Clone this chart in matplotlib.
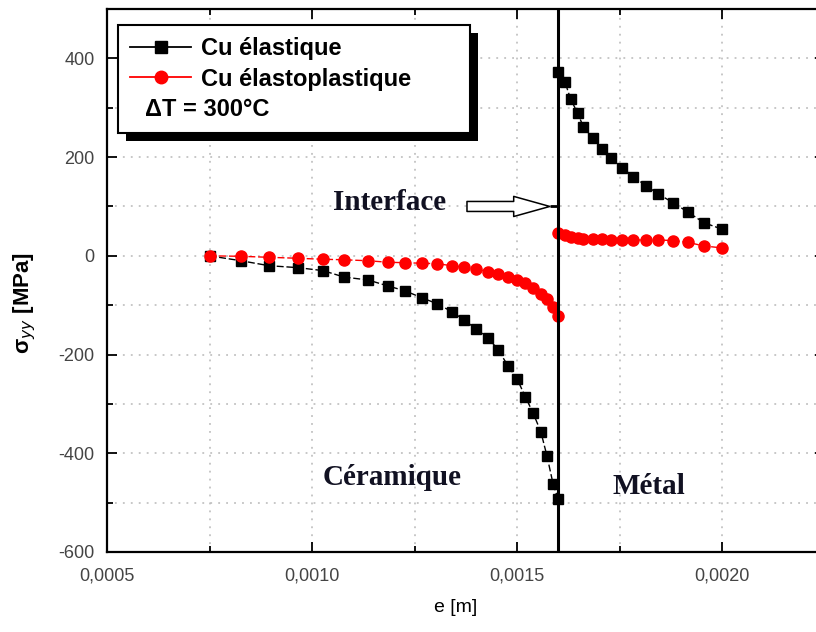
import matplotlib
matplotlib.use("Agg")
import matplotlib.pyplot as plt
from matplotlib.lines import Line2D
from matplotlib.patches import Rectangle
from matplotlib.ticker import MultipleLocator, FuncFormatter
from matplotlib.transforms import IdentityTransform

# Thickness coordinate e [m] in the ceramic and in the metal
e_ceramique = [0.000750, 0.000827, 0.000895, 0.000966, 0.001027, 0.001078,
               0.001137, 0.001185, 0.001227, 0.001268, 0.001305, 0.001341,
               0.001371, 0.001400, 0.001429, 0.001454, 0.001478, 0.001500,
               0.001520, 0.001539, 0.001558, 0.001573, 0.001588, 0.001600]
e_metal = [0.001600, 0.001617, 0.001631, 0.001648, 0.001662, 0.001685,
           0.001707, 0.001729, 0.001757, 0.001784, 0.001815, 0.001845,
           0.001880, 0.001918, 0.001956, 0.002000]

# sigma_yy [MPa], elastic copper
syy_elast_ceramique = [0, -10, -20, -24, -30, -43, -49, -61, -71, -85, -97, -113,
                       -130, -148, -166, -190, -223, -249, -285, -318, -356,
                       -405, -462, -492]
syy_elast_metal = [373, 352, 317, 289, 261, 238, 217, 198, 178, 160, 142, 125,
                   108, 88, 67, 54]

# sigma_yy [MPa], elastoplastic copper
syy_plast_ceramique = [0, -1, -3, -5, -7, -8, -10, -13, -14, -15, -16, -20,
                       -23, -27, -32, -37, -43, -49, -56, -65, -77, -88,
                       -104, -122]
syy_plast_metal = [46, 42, 39, 37, 35, 34, 34, 33, 33, 32, 32, 32, 31, 27, 20, 16]

e_interface = 0.0016
series_labels = ["Cu élastique", "Cu élastoplastique"]
delta_t_label = "ΔT = 300°C"

plt.rcParams["font.family"] = ["Liberation Sans", "DejaVu Sans"]

W, H = 816, 632
fig = plt.figure(figsize=(W / 100, H / 100), dpi=100)
# axes frame in pixels: left 107, right 824.5, top 9, bottom 552
ax = fig.add_axes([107 / W, 1 - 552 / H, 717.5 / W, 543 / H])

e_all = e_ceramique + e_metal
ax.plot(e_all, syy_elast_ceramique + syy_elast_metal, color="black", lw=1,
        ls=(0, (5, 2)), marker="s", ms=7.2, mfc="black", mec="black", zorder=3)
ax.plot(e_all, syy_plast_ceramique + syy_plast_metal, color="red", lw=1,
        ls=(0, (5, 2)), marker="o", ms=8, mfc="red", mec="red", zorder=3)

ax.axvline(e_interface, color="black", lw=2.2, zorder=4)

ax.set_xlim(0.0005, 0.00225)
ax.set_ylim(-600, 500)

ax.xaxis.set_major_locator(MultipleLocator(0.0005))
ax.xaxis.set_minor_locator(MultipleLocator(0.00025))
ax.yaxis.set_major_locator(MultipleLocator(200))
ax.yaxis.set_minor_locator(MultipleLocator(100))
ax.xaxis.set_major_formatter(FuncFormatter(lambda v, p: f"{v:.4f}".replace(".", ",")))
ax.yaxis.set_major_formatter(FuncFormatter(lambda v, p: f"{v:.0f}"))

ax.grid(True, which="both", color="#b8b8b8", lw=1.1, ls=(0, (1.2, 4)), zorder=0)
ax.set_axisbelow(True)

ax.tick_params(which="both", direction="in", top=True, right=True, width=1.3,
               colors="black", labelcolor="#444444", labelsize=13)
ax.tick_params(axis="x", which="major", length=7, pad=11)
ax.tick_params(axis="y", which="major", length=7, pad=9)
ax.tick_params(which="minor", length=4)
for side in ["left", "bottom", "top", "right"]:
    ax.spines[side].set_linewidth(1.6)

# axis titles
fig.text(25 / W, 1 - 303 / H, r"σ$_{yy}$ [MPa]", rotation=90, ha="center",
         va="center", fontsize=16, fontweight="bold")
fig.text(456 / W, 1 - 607 / H, "e [m]", ha="center", va="center", fontsize=14)

# region labels
serif = dict(family=["Liberation Serif", "DejaVu Serif"], fontweight="bold",
             fontsize=21, color="#111122")
ax.text(0.00119, 107, "Interface", ha="center", va="center", **serif)
ax.text(0.001195, -449, "Céramique", ha="center", va="center", **serif)
ax.text(0.001822, -468, "Métal", ha="center", va="center", **serif)

# hollow arrow pointing at the interface
ax.annotate("", xy=(0.00158, 100), xytext=(0.001378, 100),
            arrowprops=dict(arrowstyle="simple,head_length=2.6,head_width=1.45,tail_width=0.72",
                            fc="white", ec="black", lw=1.1, shrinkA=0, shrinkB=0,
                            mutation_scale=10),
            zorder=5)
ax.plot([0.00158, e_interface], [100, 100], color="black", lw=2, zorder=5,
        solid_capstyle="butt")

# legend
handles = [
    Line2D([], [], color="black", lw=1.3, marker="s", ms=8.5, mfc="black", mec="black"),
    Line2D([], [], color="red", lw=1.3, marker="o", ms=9, mfc="red", mec="red"),
    Line2D([], [], color="none"),
]
leg = ax.legend(handles, series_labels + [" "], loc="upper left",
                bbox_to_anchor=(11 / 717.5, 1 - 16 / 543, 352 / 717.5, 0.0),
                mode="expand", borderaxespad=0, fancybox=False, framealpha=1,
                edgecolor="black", handlelength=2.6, handletextpad=0.4,
                borderpad=0.5, labelspacing=0.33,
                prop=dict(size=17, weight="bold"))
leg.get_frame().set_linewidth(1.5)
leg.set_zorder(6)

fig.canvas.draw()
bb = leg.get_window_extent()
shadow = Rectangle((bb.x0 + 8, bb.y0 - 8), bb.width, bb.height, transform=IdentityTransform(),
                   fc="black", ec="none", zorder=5.5, clip_on=False)
ax.add_artist(shadow)
t3 = leg.get_texts()[2]
tb = t3.get_window_extent()
ax.text(bb.x0 + 27, (tb.y0 + tb.y1) / 2, delta_t_label, transform=IdentityTransform(),
        ha="left", va="center", fontsize=17, fontweight="bold", zorder=7)

fig.savefig("out.png", dpi=100)
